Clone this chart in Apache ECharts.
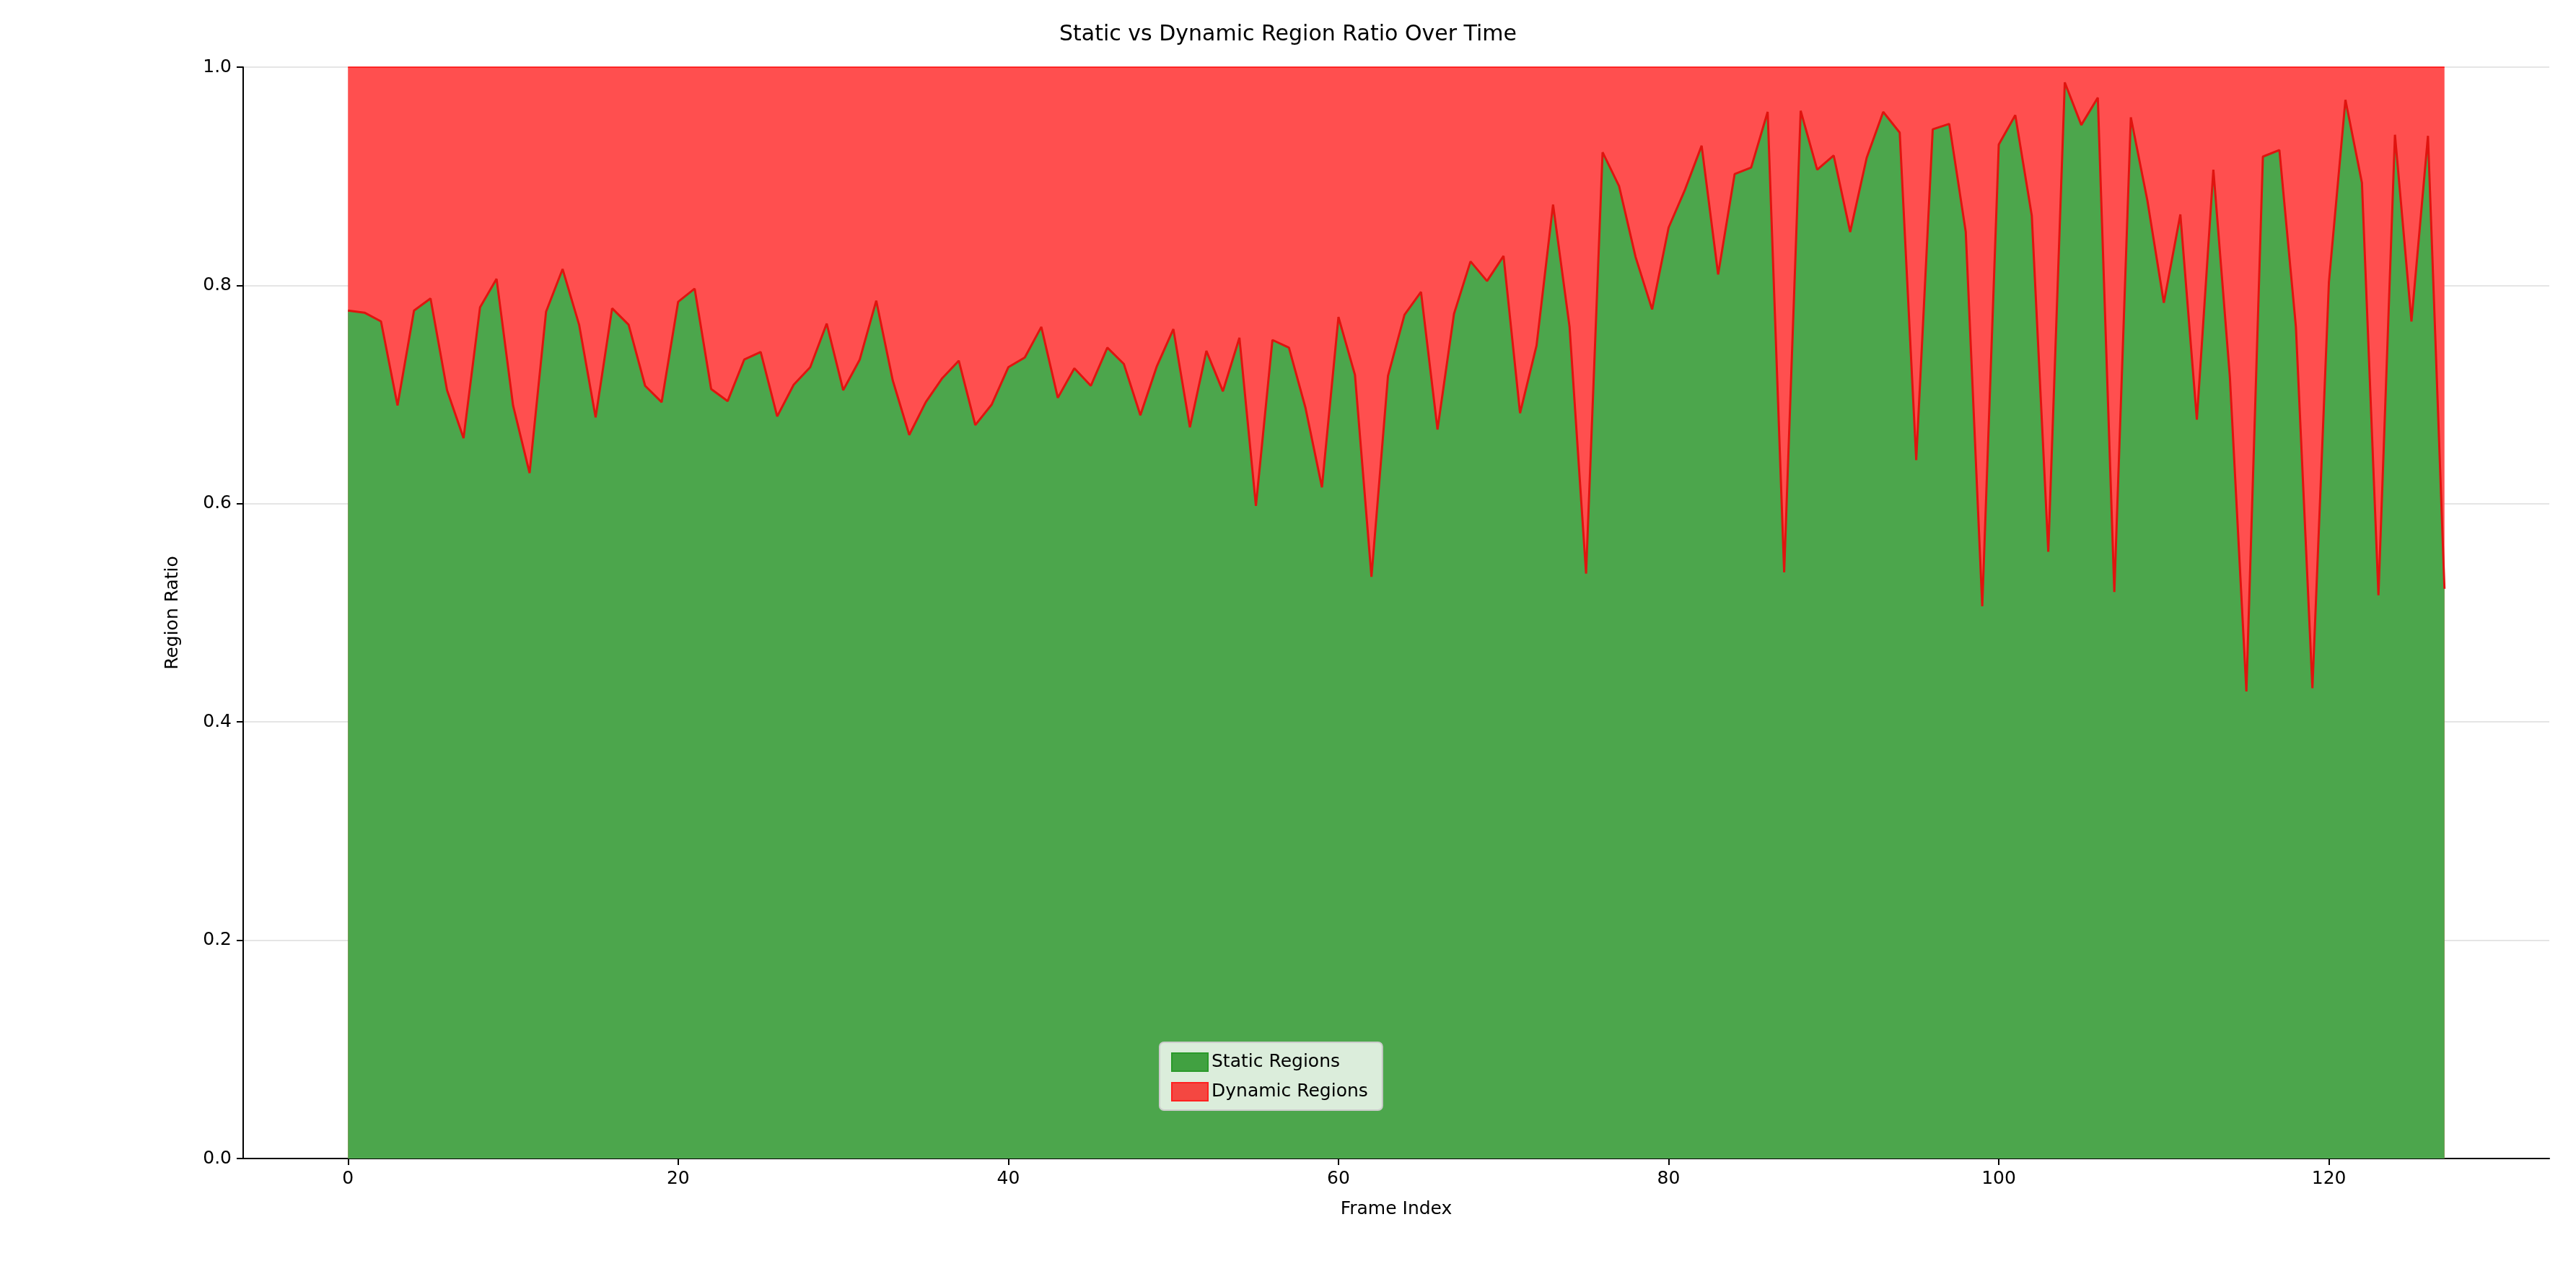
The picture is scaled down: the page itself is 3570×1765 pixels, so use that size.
<!DOCTYPE html>
<html>
<head>
<meta charset="utf-8">
<script src="https://cdn.jsdelivr.net/npm/echarts@6/dist/echarts.min.js"></script>
<style>
html,body{margin:0;padding:0;background:#fff}
#main{width:3570px;height:1765px}
</style>
</head>
<body>
<div id="main"></div>
<script>
// 静态区域占比, 每一帧读一个值 (0..127)
var staticRatio = [
  0.777,0.775,0.767,0.690,0.777,0.788,0.704,0.660,0.780,0.806,
  0.690,0.628,0.776,0.815,0.764,0.679,0.779,0.764,0.708,0.693,
  0.785,0.797,0.705,0.694,0.732,0.739,0.680,0.709,0.725,0.765,
  0.704,0.732,0.786,0.713,0.663,0.693,0.715,0.731,0.672,0.691,
  0.725,0.734,0.762,0.697,0.724,0.708,0.743,0.728,0.681,0.726,
  0.760,0.670,0.740,0.703,0.752,0.598,0.750,0.743,0.688,0.615,
  0.771,0.718,0.533,0.717,0.773,0.794,0.668,0.774,0.822,0.804,
  0.827,0.683,0.745,0.874,0.762,0.536,0.922,0.891,0.826,0.778,
  0.853,0.888,0.928,0.810,0.902,0.908,0.959,0.537,0.960,0.906,
  0.919,0.849,0.917,0.959,0.940,0.640,0.943,0.948,0.849,0.506,
  0.929,0.956,0.864,0.556,0.986,0.947,0.972,0.519,0.954,0.878,
  0.784,0.865,0.677,0.906,0.716,0.428,0.918,0.924,0.762,0.431,
  0.803,0.970,0.894,0.516,0.938,0.767,0.937,0.522
];
var xTicks = [0,20,40,60,80,100,120];

// 动态区域 = 1 - 静态, 叠在静态上面, 顶部就是 静态+动态
var dynamicRatio = staticRatio.map(function(v){return 1-v});
var staticData = staticRatio.map(function(v,i){return [i,v]});
var topData = staticRatio.map(function(v,i){return [i,v+dynamicRatio[i]]});

var font = 'DejaVu Sans';
var myChart = echarts.init(document.getElementById('main'));
myChart.setOption({
  animation:false,
  title:{
    text:'Static vs Dynamic Region Ratio Over Time',
    left:'center', top:28,
    textStyle:{fontFamily:font,fontSize:30,fontWeight:'normal',color:'#000'}
  },
  legend:{
    left:1607, top:1444,
    orient:'vertical',
    itemWidth:50, itemHeight:25, itemGap:14,
    padding:[14,20,12,16],
    backgroundColor:'rgba(255,255,255,0.8)',
    borderColor:'#cccccc', borderWidth:2, borderRadius:6,
    textStyle:{fontFamily:font,fontSize:25,color:'#000'},
    data:[
      {name:'Static Regions',icon:'rect',itemStyle:{color:'rgba(0,128,0,0.7)',borderColor:'#2a9a2a',borderWidth:2}},
      {name:'Dynamic Regions',icon:'rect',itemStyle:{color:'rgba(255,0,0,0.7)',borderColor:'#ff2020',borderWidth:2}}
    ]
  },
  grid:{left:337,right:37,top:93,bottom:160},
  xAxis:{
    type:'value', min:-6.35, max:133.35,
    name:'Frame Index', nameLocation:'middle', nameGap:58,
    nameTextStyle:{fontFamily:font,fontSize:25,color:'#000'},
    axisLine:{onZero:false,lineStyle:{color:'#000',width:2}},
    axisTick:{show:true,length:9,lineStyle:{color:'#000',width:2},customValues:xTicks},
    axisLabel:{fontFamily:font,fontSize:25,color:'#000',margin:16,customValues:xTicks},
    splitLine:{show:true,lineStyle:{color:'rgba(0,0,0,0.1)',width:2}}
  },
  yAxis:{
    type:'value', min:0, max:1, interval:0.2,
    name:'Region Ratio', nameLocation:'middle', nameGap:85,
    nameTextStyle:{fontFamily:font,fontSize:25,color:'#000'},
    axisLine:{show:true,onZero:false,lineStyle:{color:'#000',width:2}},
    axisTick:{show:true,length:9,lineStyle:{color:'#000',width:2}},
    axisLabel:{fontFamily:font,fontSize:25,color:'#000',margin:16,formatter:function(v){return v.toFixed(1)}},
    splitLine:{show:true,lineStyle:{color:'rgba(0,0,0,0.1)',width:2}}
  },
  series:[
    {
      name:'Dynamic Regions', type:'line', data:topData,
      symbol:'none', z:2,
      lineStyle:{color:'rgba(255,0,0,0.7)',width:2},
      itemStyle:{color:'rgba(255,0,0,0.7)'},
      areaStyle:{color:'#ff4f4f',opacity:1}
    },
    {
      name:'Static Regions', type:'line', data:staticData,
      symbol:'none', z:3,
      lineStyle:{color:'#e0140f',width:3},
      itemStyle:{color:'rgba(0,128,0,0.7)'},
      areaStyle:{color:'#4ca64c',opacity:1}
    }
  ]
});
</script>
</body>
</html>
